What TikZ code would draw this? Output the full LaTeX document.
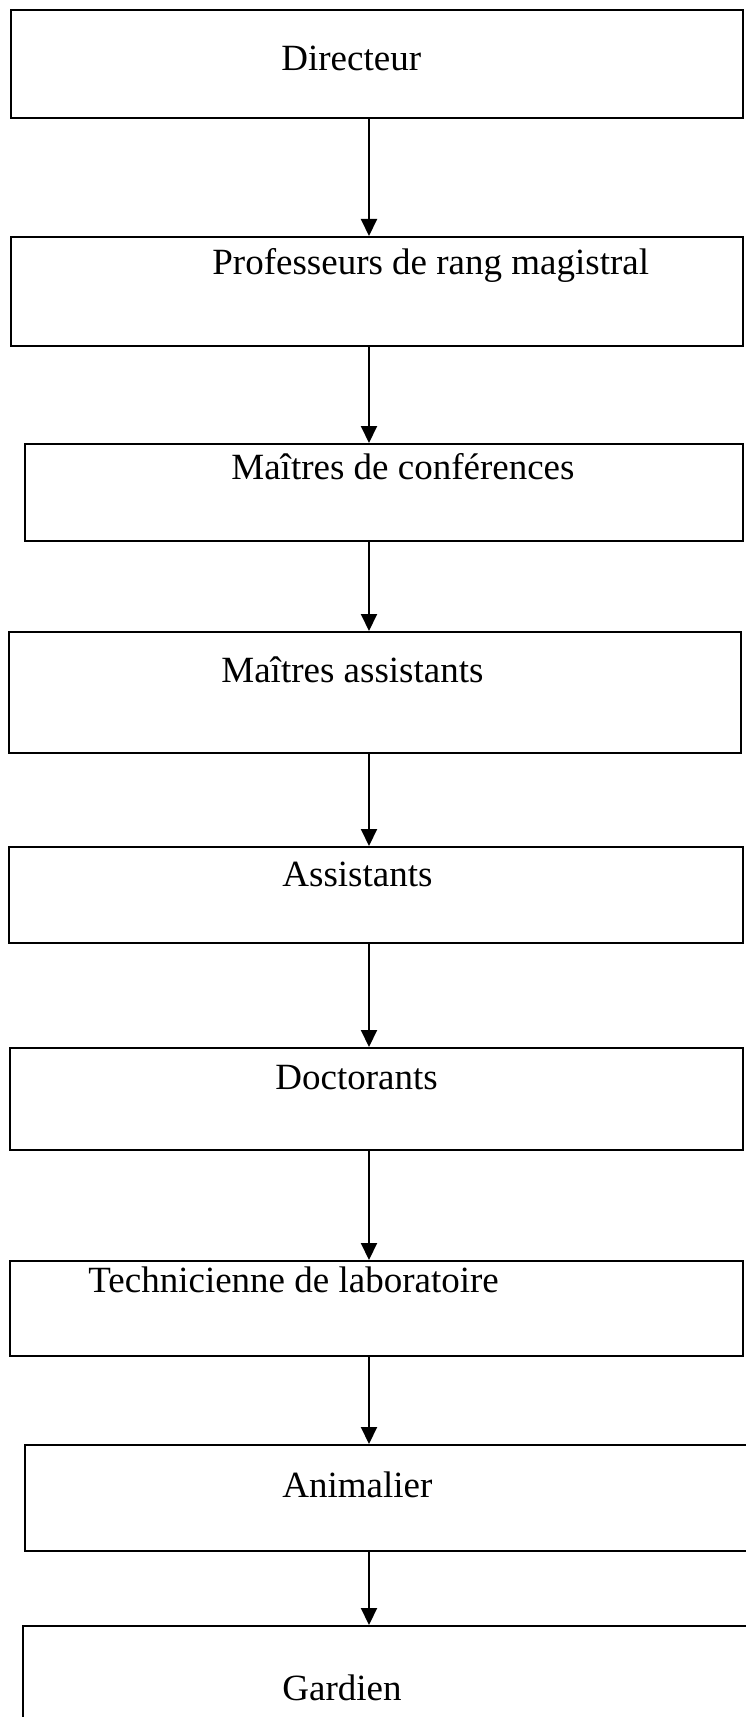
\documentclass[tikz,border=0pt]{standalone}
\usepackage{fontspec}
\setmainfont{Liberation Serif}
\usetikzlibrary{arrows.meta}

\tikzset{
  rang/.style 2 args={draw, line width=1pt, inner sep=0pt, minimum width=#1*0.5pt, minimum height=#2*0.5pt},
  lbl/.style={inner sep=0pt, anchor=base west, font=\fontsize{18.5}{22}\selectfont},
  fleche/.style={line width=1pt, -{Triangle[length=8.5pt,width=8pt]}}
}

\begin{document}
\begin{tikzpicture}[x=0.5pt, y=-0.5pt]
\useasboundingbox (0,0) rectangle (745,1717); %page

% boxes
\node[rang={732}{108}] (dir) at (377,64) {};
\node[rang={732}{109}] (prof) at (377,291.5) {};
\node[rang={718}{97}] (mc) at (384,492.5) {};
\node[rang={732}{121}] (ma) at (375,692.5) {};
\node[rang={734}{96}] (ass) at (376,895) {};
\node[rang={733}{102}] (doc) at (376.5,1099) {};
\node[rang={733}{95}] (tech) at (376.5,1308.5) {};
\node[rang={735}{106}] (anim) at (392.5,1498) {};
\node[rang={737}{134}] (gard) at (391.5,1693) {};

% texts
\node[lbl] (tdir) at (281,71) {Directeur};
\node[lbl] (tprof) at (212,275) {Professeurs de rang magistral};
\node[lbl] (tmc) at (231,479) {Maîtres de conférences};
\node[lbl] (tma) at (221,682) {Maîtres assistants};
\node[lbl] (tass) at (282,886) {Assistants};
\node[lbl] (tdoc) at (275,1089) {Doctorants};
\node[lbl] (ttech) at (88,1292) {Technicienne de laboratoire};
\node[lbl] (tanim) at (282,1497) {Animalier};
\node[lbl] (tgard) at (282,1700) {Gardien};

% arrows
\coordinate (ax) at (369,0);
\foreach \a/\b in {dir/prof, prof/mc, mc/ma, ma/ass, ass/doc, doc/tech, tech/anim, anim/gard}
  \draw[fleche] (\a.south -| ax) -- (\b.north -| ax);

\end{tikzpicture}
\end{document}
